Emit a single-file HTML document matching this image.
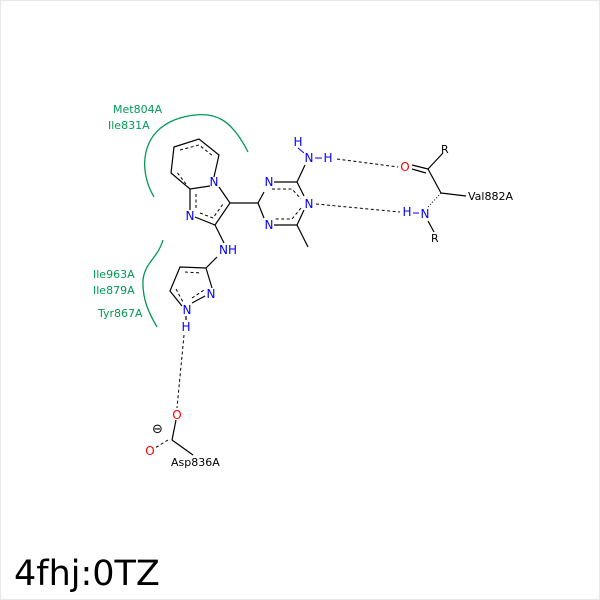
<!DOCTYPE html>
<html><head><style>body{margin:0;background:#fff}svg{display:block}</style></head><body>
<svg width="600" height="600" viewBox="0 0 600 600" xmlns="http://www.w3.org/2000/svg" font-family="DejaVu Sans, Liberation Sans, sans-serif">
<rect x="0.5" y="0.5" width="599" height="599" fill="#fff" stroke="#e8e8e8"/>
<g fill="none" stroke="#009955" stroke-width="1.3">
<path d="M154,197 C138,170 140,130 180,118 C215,108 232,120 248,152"/>
<path d="M163,240 C158,258 145,262 143,280 C142,300 150,315 157,327"/>
</g>
<g fill="#009955" font-size="11">
<text x="113" y="113">Met804A</text><text x="108" y="129">Ile831A</text>
<text x="93" y="278">Ile963A</text><text x="93" y="294">Ile879A</text><text x="98" y="317">Tyr867A</text>
</g>
<g stroke="#000" stroke-width="1.2" fill="none">
<path d="M214,177 L219,155 L199,139 L174,147 L171,173 L190,189 L210,186"/>
<path d="M190,189 L190,210 M195,217 L215,225 L230,203 L219,187"/>
<path d="M230,203 L258,203 L264,192 M274,182 L297,182 L304,196 M304,210 L297,225 L274,225 M264,218 L258,203"/>
<path d="M297,182 L305,165 M297,225 L308,247 M215,225 L224,243 M217,257 L206,268 L180,267 L170,291 L182,306 M192,303 L205,296 M212,288 L206,268 M186,316 L186,320"/>
<path d="M172,440 L193,455 M412,165 L428,169 M428,169 L441,193 M428,169 L443,153 M441,193 L466,196 M428,221 L434,232"/>
<path d="M412,169 L426,173"/>
</g>
<g stroke="#000" stroke-width="1" fill="none" stroke-dasharray="3,2.5">
<path d="M180,150 L199,145 L213,156 M186,184 L176,171 M196,194 L196,210 M200,213 L213,218 L223,204 M272,189 L292,189 L301,199 M301,208 L292,219 L274,219 M185,272 L201,273 M176,289 L183,302 M192,298 L204,290"/>
<path d="M337,159 L398,167 M316,204 L400,212 M184,335 L177,408 M168,440 L155,448" />
</g>
<path d="M441,193 L427,208" stroke="#000" stroke-width="1" stroke-dasharray="1,2"/>
<path d="M172,440 L176,420" stroke="#000" stroke-width="1.2"/>
<g fill="#0000ff" font-size="12" text-anchor="middle">
<text x="214" y="186">N</text><text x="190" y="220">N</text>
<text x="269" y="186">N</text><text x="309" y="208">N</text><text x="269" y="229">N</text>
<text x="298" y="146">H</text><text x="309" y="162">N</text><text x="328" y="162">H</text>
<text x="228" y="254">NH</text><text x="211" y="298">N</text><text x="187" y="314">N</text><text x="186" y="331">H</text>
<text x="407" y="216">H</text><text x="425" y="218">N</text>
</g>
<g stroke="#0000ff" stroke-width="1"><path d="M315,158 L322,158 M413,213 L419,213 M298,148 L304,153"/></g>
<g fill="#ff0000" font-size="12" text-anchor="middle"><text x="405" y="171">O</text><text x="177" y="419">O</text><text x="150" y="455">O</text></g>
<g fill="#000" font-size="11"><text x="441" y="153">R</text><text x="431" y="242">R</text><text x="468" y="200">Val882A</text><text x="171" y="466">Asp836A</text>
<text x="152" y="433" font-size="13">⊖</text></g>
<text x="14" y="585" font-size="35" fill="#000">4fhj:0TZ</text>
</svg>
</body></html>
